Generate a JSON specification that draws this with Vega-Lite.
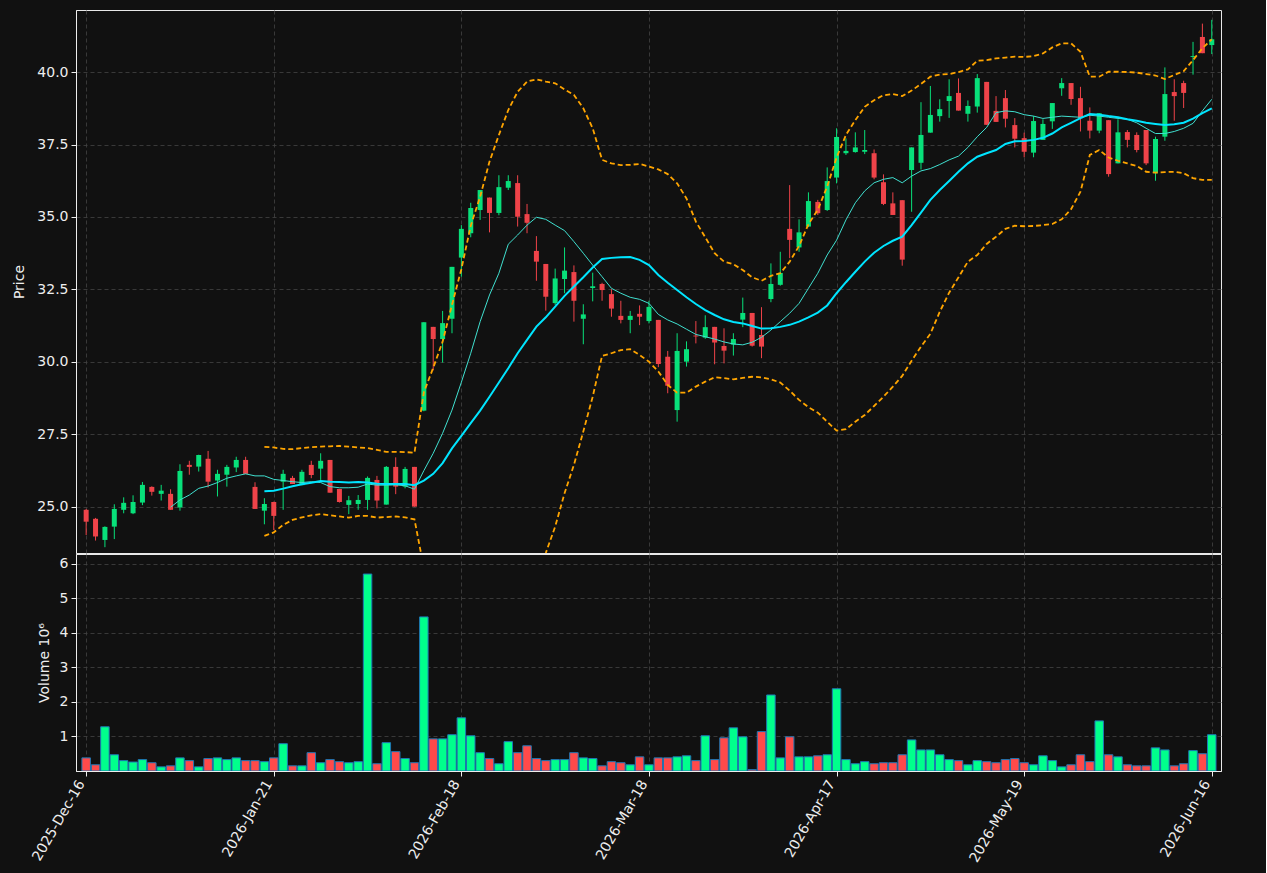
{
"$schema": "https://vega.github.io/schema/vega-lite/v6.json",
"background": "#111111",
"padding": {"left": 12, "top": 9, "right": 44, "bottom": 16},
"spacing": -2,
"config": {
  "view": {"stroke": "#e8e8e8", "strokeWidth": 1},
  "axis": {"labelColor": "#eeeeee", "titleColor": "#eeeeee", "labelFont": "DejaVu Sans", "titleFont": "DejaVu Sans", "labelFontSize": 14, "titleFontSize": 14, "titleFontWeight": "normal", "tickColor": "#eeeeee", "domainColor": "#eeeeee", "gridColor": "#444444", "gridDash": [4, 3], "gridWidth": 0.8, "tickSize": 5, "labelPadding": 3}
},
"data": {"values": [
{"i":0,"o":24.90,"h":24.93,"l":24.03,"c":24.49,"v":0.38},
{"i":1,"o":24.59,"h":24.62,"l":23.84,"c":23.98,"v":0.18},
{"i":2,"o":23.86,"h":24.33,"l":23.61,"c":24.31,"v":1.28},
{"i":3,"o":24.32,"h":25.09,"l":23.89,"c":24.93,"v":0.47},
{"i":4,"o":24.90,"h":25.33,"l":24.78,"c":25.14,"v":0.30},
{"i":5,"o":24.78,"h":25.40,"l":24.75,"c":25.17,"v":0.26},
{"i":6,"o":25.15,"h":25.86,"l":25.06,"c":25.76,"v":0.33},
{"i":7,"o":25.69,"h":25.71,"l":25.39,"c":25.52,"v":0.24},
{"i":8,"o":25.45,"h":25.76,"l":25.22,"c":25.56,"v":0.12},
{"i":9,"o":25.45,"h":25.61,"l":24.90,"c":24.90,"v":0.15,"m10":24.99},
{"i":10,"o":24.98,"h":26.47,"l":24.87,"c":26.24,"v":0.38,"m10":25.24},
{"i":11,"o":26.45,"h":26.59,"l":26.11,"c":26.38,"v":0.30,"m10":25.41},
{"i":12,"o":26.39,"h":26.80,"l":26.22,"c":26.79,"v":0.12,"m10":25.64},
{"i":13,"o":26.66,"h":26.93,"l":25.67,"c":25.87,"v":0.36,"m10":25.72},
{"i":14,"o":25.91,"h":26.28,"l":25.36,"c":26.14,"v":0.38,"m10":25.84},
{"i":15,"o":26.11,"h":26.45,"l":25.70,"c":26.38,"v":0.33,"m10":25.99},
{"i":16,"o":26.36,"h":26.73,"l":26.20,"c":26.62,"v":0.38,"m10":26.07},
{"i":17,"o":26.62,"h":26.73,"l":26.14,"c":26.14,"v":0.30,"m10":26.14},
{"i":18,"o":25.69,"h":25.85,"l":24.93,"c":24.93,"v":0.30,"m10":26.07},
{"i":19,"o":24.87,"h":25.30,"l":24.40,"c":25.10,"v":0.27,"m10":26.07,"m20":25.54,"bu":27.07,"bl":24.00},
{"i":20,"o":25.17,"h":25.18,"l":24.20,"c":24.69,"v":0.38,"m10":25.95,"m20":25.56,"bu":27.05,"bl":24.12},
{"i":21,"o":25.87,"h":26.28,"l":24.90,"c":26.14,"v":0.79,"m10":25.91,"m20":25.63,"bu":27.00,"bl":24.38},
{"i":22,"o":26.00,"h":26.07,"l":25.79,"c":25.79,"v":0.15,"m10":25.87,"m20":25.71,"bu":26.99,"bl":24.55},
{"i":23,"o":25.75,"h":26.28,"l":25.75,"c":26.21,"v":0.15,"m10":25.84,"m20":25.78,"bu":27.03,"bl":24.64},
{"i":24,"o":26.45,"h":26.59,"l":25.99,"c":26.10,"v":0.53,"m10":25.87,"m20":25.83,"bu":27.06,"bl":24.71},
{"i":25,"o":26.32,"h":26.85,"l":25.93,"c":26.59,"v":0.24,"m10":25.84,"m20":25.89,"bu":27.08,"bl":24.75},
{"i":26,"o":26.62,"h":26.62,"l":25.49,"c":25.49,"v":0.33,"m10":25.70,"m20":25.87,"bu":27.09,"bl":24.71},
{"i":27,"o":25.62,"h":25.62,"l":25.15,"c":25.17,"v":0.27,"m10":25.66,"m20":25.86,"bu":27.10,"bl":24.67},
{"i":28,"o":25.07,"h":25.38,"l":24.75,"c":25.23,"v":0.24,"m10":25.66,"m20":25.84,"bu":27.08,"bl":24.63},
{"i":29,"o":25.10,"h":25.41,"l":24.90,"c":25.24,"v":0.27,"m10":25.68,"m20":25.86,"bu":27.05,"bl":24.69},
{"i":30,"o":25.24,"h":26.05,"l":24.90,"c":26.00,"v":5.70,"m10":25.79,"m20":25.84,"bu":27.03,"bl":24.69},
{"i":31,"o":25.93,"h":26.07,"l":24.95,"c":25.22,"v":0.21,"m10":25.75,"m20":25.80,"bu":26.97,"bl":24.63},
{"i":32,"o":25.08,"h":26.41,"l":25.08,"c":26.38,"v":0.82,"m10":25.75,"m20":25.79,"bu":26.90,"bl":24.65},
{"i":33,"o":26.38,"h":26.71,"l":25.44,"c":25.70,"v":0.56,"m10":25.76,"m20":25.79,"bu":26.90,"bl":24.67},
{"i":34,"o":25.70,"h":26.38,"l":25.64,"c":26.31,"v":0.36,"m10":25.73,"m20":25.79,"bu":26.89,"bl":24.64},
{"i":35,"o":26.38,"h":26.38,"l":25.01,"c":25.01,"v":0.24,"m10":25.61,"m20":25.75,"bu":26.87,"bl":24.57},
{"i":36,"o":28.32,"h":31.37,"l":28.30,"c":31.37,"v":4.46,"m10":26.25,"m20":25.91,"bu":28.95,"bl":22.90},
{"i":37,"o":31.21,"h":31.21,"l":29.71,"c":30.79,"v":0.93,"m10":26.85,"m20":26.14,"bu":29.80,"bl":22.50},
{"i":38,"o":30.79,"h":31.76,"l":29.98,"c":31.34,"v":0.93,"m10":27.54,"m20":26.51,"bu":30.70,"bl":22.32},
{"i":39,"o":31.49,"h":33.28,"l":30.99,"c":33.28,"v":1.05,"m10":28.34,"m20":27.02,"bu":31.97,"bl":22.07},
{"i":40,"o":33.60,"h":34.72,"l":32.94,"c":34.59,"v":1.54,"m10":29.30,"m20":27.45,"bu":33.20,"bl":21.60},
{"i":41,"o":34.44,"h":35.49,"l":34.30,"c":35.31,"v":1.02,"m10":30.30,"m20":27.89,"bu":34.70,"bl":21.08},
{"i":42,"o":35.24,"h":35.93,"l":34.90,"c":35.93,"v":0.53,"m10":31.39,"m20":28.32,"bu":35.70,"bl":20.94},
{"i":43,"o":35.67,"h":35.67,"l":34.47,"c":35.14,"v":0.36,"m10":32.31,"m20":28.80,"bu":36.91,"bl":20.69},
{"i":44,"o":35.14,"h":36.44,"l":35.06,"c":36.03,"v":0.21,"m10":33.06,"m20":29.29,"bu":37.83,"bl":20.75},
{"i":45,"o":36.01,"h":36.44,"l":35.93,"c":36.24,"v":0.85,"m10":34.06,"m20":29.78,"bu":38.69,"bl":20.87},
{"i":46,"o":36.17,"h":36.44,"l":34.67,"c":35.01,"v":0.53,"m10":34.38,"m20":30.30,"bu":39.32,"bl":21.28},
{"i":47,"o":35.10,"h":35.45,"l":34.44,"c":34.80,"v":0.73,"m10":34.72,"m20":30.76,"bu":39.67,"bl":21.85},
{"i":48,"o":33.83,"h":34.34,"l":32.80,"c":33.46,"v":0.36,"m10":34.99,"m20":31.22,"bu":39.75,"bl":22.69},
{"i":49,"o":33.38,"h":33.38,"l":31.77,"c":32.25,"v":0.30,"m10":34.92,"m20":31.54,"bu":39.67,"bl":23.41},
{"i":50,"o":32.03,"h":33.22,"l":31.97,"c":32.88,"v":0.33,"m10":34.72,"m20":31.91,"bu":39.61,"bl":24.32},
{"i":51,"o":32.86,"h":33.95,"l":32.37,"c":33.15,"v":0.33,"m10":34.53,"m20":32.28,"bu":39.40,"bl":25.47},
{"i":52,"o":33.10,"h":33.33,"l":31.39,"c":32.11,"v":0.53,"m10":34.15,"m20":32.60,"bu":39.21,"bl":26.45},
{"i":53,"o":31.49,"h":31.99,"l":30.61,"c":31.64,"v":0.38,"m10":33.75,"m20":32.92,"bu":38.75,"bl":27.60},
{"i":54,"o":32.55,"h":33.08,"l":32.09,"c":32.61,"v":0.36,"m10":33.34,"m20":33.26,"bu":38.06,"bl":28.80},
{"i":55,"o":32.69,"h":32.73,"l":32.11,"c":32.48,"v":0.15,"m10":32.94,"m20":33.55,"bu":36.97,"bl":30.21},
{"i":56,"o":32.34,"h":32.51,"l":31.56,"c":31.84,"v":0.27,"m10":32.54,"m20":33.59,"bu":36.85,"bl":30.30},
{"i":57,"o":31.59,"h":32.11,"l":31.33,"c":31.45,"v":0.24,"m10":32.37,"m20":33.61,"bu":36.79,"bl":30.41},
{"i":58,"o":31.45,"h":31.76,"l":30.99,"c":31.59,"v":0.18,"m10":32.23,"m20":33.62,"bu":36.80,"bl":30.44},
{"i":59,"o":31.66,"h":31.95,"l":31.27,"c":31.56,"v":0.41,"m10":32.16,"m20":33.52,"bu":36.83,"bl":30.24},
{"i":60,"o":31.41,"h":32.11,"l":31.33,"c":31.90,"v":0.18,"m10":32.02,"m20":33.34,"bu":36.74,"bl":30.01},
{"i":61,"o":31.45,"h":31.45,"l":29.82,"c":29.93,"v":0.38,"m10":31.64,"m20":33.00,"bu":36.64,"bl":29.67},
{"i":62,"o":30.18,"h":30.38,"l":28.92,"c":29.18,"v":0.38,"m10":31.45,"m20":32.73,"bu":36.48,"bl":29.21},
{"i":63,"o":28.34,"h":30.99,"l":27.94,"c":30.38,"v":0.41,"m10":31.31,"m20":32.48,"bu":36.16,"bl":28.94},
{"i":64,"o":30.01,"h":30.71,"l":29.84,"c":30.44,"v":0.44,"m10":31.13,"m20":32.23,"bu":35.64,"bl":28.94},
{"i":65,"o":30.91,"h":31.41,"l":30.64,"c":30.88,"v":0.30,"m10":30.95,"m20":32.00,"bu":34.84,"bl":29.15},
{"i":66,"o":30.84,"h":31.61,"l":30.80,"c":31.20,"v":1.02,"m10":30.87,"m20":31.79,"bu":34.30,"bl":29.32},
{"i":67,"o":31.21,"h":31.21,"l":29.92,"c":30.67,"v":0.33,"m10":30.79,"m20":31.62,"bu":33.75,"bl":29.47},
{"i":68,"o":30.55,"h":31.16,"l":29.95,"c":30.39,"v":0.96,"m10":30.69,"m20":31.47,"bu":33.46,"bl":29.44},
{"i":69,"o":30.60,"h":30.99,"l":30.22,"c":30.79,"v":1.25,"m10":30.62,"m20":31.38,"bu":33.37,"bl":29.40},
{"i":70,"o":31.46,"h":32.22,"l":31.20,"c":31.69,"v":0.99,"m10":30.59,"m20":31.33,"bu":33.17,"bl":29.45},
{"i":71,"o":31.69,"h":31.69,"l":30.53,"c":30.56,"v":0.04,"m10":30.68,"m20":31.24,"bu":32.92,"bl":29.49},
{"i":72,"o":30.93,"h":31.89,"l":30.13,"c":30.53,"v":1.14,"m10":30.85,"m20":31.15,"bu":32.80,"bl":29.47},
{"i":73,"o":32.17,"h":33.40,"l":32.06,"c":32.69,"v":2.20,"m10":31.10,"m20":31.16,"bu":32.97,"bl":29.40},
{"i":74,"o":32.66,"h":33.80,"l":32.63,"c":33.07,"v":0.38,"m10":31.39,"m20":31.21,"bu":33.06,"bl":29.29},
{"i":75,"o":34.59,"h":36.10,"l":33.58,"c":34.21,"v":0.99,"m10":31.68,"m20":31.28,"bu":33.46,"bl":29.01},
{"i":76,"o":33.95,"h":34.92,"l":33.80,"c":34.47,"v":0.41,"m10":32.02,"m20":31.39,"bu":34.00,"bl":28.69},
{"i":77,"o":34.67,"h":35.85,"l":34.65,"c":35.55,"v":0.41,"m10":32.54,"m20":31.54,"bu":34.75,"bl":28.44},
{"i":78,"o":35.52,"h":35.59,"l":35.07,"c":35.13,"v":0.44,"m10":33.06,"m20":31.70,"bu":35.25,"bl":28.25},
{"i":79,"o":35.24,"h":36.71,"l":35.21,"c":36.24,"v":0.47,"m10":33.69,"m20":31.95,"bu":36.05,"bl":27.94},
{"i":80,"o":36.36,"h":38.06,"l":36.16,"c":37.76,"v":2.38,"m10":34.20,"m20":32.37,"bu":37.05,"bl":27.63},
{"i":81,"o":37.20,"h":37.71,"l":37.14,"c":37.28,"v":0.33,"m10":34.90,"m20":32.75,"bu":37.83,"bl":27.68},
{"i":82,"o":37.24,"h":37.92,"l":37.22,"c":37.40,"v":0.21,"m10":35.49,"m20":33.11,"bu":38.34,"bl":27.94},
{"i":83,"o":37.25,"h":38.00,"l":37.17,"c":37.31,"v":0.27,"m10":35.90,"m20":33.46,"bu":38.80,"bl":28.17},
{"i":84,"o":37.20,"h":37.33,"l":36.30,"c":36.36,"v":0.21,"m10":36.18,"m20":33.77,"bu":39.03,"bl":28.48},
{"i":85,"o":36.20,"h":36.47,"l":35.41,"c":35.45,"v":0.24,"m10":36.30,"m20":34.00,"bu":39.20,"bl":28.80},
{"i":86,"o":35.47,"h":35.85,"l":35.07,"c":35.07,"v":0.24,"m10":36.36,"m20":34.18,"bu":39.24,"bl":29.15},
{"i":87,"o":35.58,"h":35.58,"l":33.32,"c":33.53,"v":0.47,"m10":36.18,"m20":34.32,"bu":39.17,"bl":29.52},
{"i":88,"o":36.62,"h":37.40,"l":35.18,"c":37.40,"v":0.90,"m10":36.41,"m20":34.72,"bu":39.36,"bl":30.04},
{"i":89,"o":36.87,"h":38.96,"l":36.64,"c":37.83,"v":0.61,"m10":36.59,"m20":35.15,"bu":39.59,"bl":30.53},
{"i":90,"o":37.91,"h":39.52,"l":37.91,"c":38.52,"v":0.61,"m10":36.67,"m20":35.59,"bu":39.84,"bl":30.97},
{"i":91,"o":38.48,"h":39.06,"l":38.29,"c":38.72,"v":0.47,"m10":36.81,"m20":35.93,"bu":39.91,"bl":31.73},
{"i":92,"o":39.00,"h":39.75,"l":38.42,"c":39.17,"v":0.33,"m10":36.97,"m20":36.24,"bu":39.93,"bl":32.39},
{"i":93,"o":39.28,"h":39.78,"l":38.67,"c":38.67,"v":0.30,"m10":37.10,"m20":36.56,"bu":40.00,"bl":32.92},
{"i":94,"o":38.56,"h":39.02,"l":38.29,"c":38.83,"v":0.18,"m10":37.40,"m20":36.85,"bu":40.09,"bl":33.46},
{"i":95,"o":38.81,"h":39.93,"l":38.60,"c":39.79,"v":0.30,"m10":37.77,"m20":37.08,"bu":40.39,"bl":33.69},
{"i":96,"o":39.66,"h":39.66,"l":38.18,"c":38.18,"v":0.27,"m10":38.09,"m20":37.20,"bu":40.41,"bl":34.07},
{"i":97,"o":38.66,"h":39.17,"l":38.28,"c":38.28,"v":0.24,"m10":38.60,"m20":37.31,"bu":40.47,"bl":34.32},
{"i":98,"o":39.10,"h":39.38,"l":38.09,"c":38.39,"v":0.33,"m10":38.66,"m20":37.52,"bu":40.50,"bl":34.59},
{"i":99,"o":38.17,"h":38.41,"l":37.40,"c":37.70,"v":0.36,"m10":38.63,"m20":37.61,"bu":40.53,"bl":34.70},
{"i":100,"o":37.72,"h":37.91,"l":37.06,"c":37.25,"v":0.24,"m10":38.53,"m20":37.62,"bu":40.52,"bl":34.68},
{"i":101,"o":37.22,"h":38.48,"l":37.06,"c":38.31,"v":0.18,"m10":38.48,"m20":37.66,"bu":40.55,"bl":34.69},
{"i":102,"o":37.66,"h":38.37,"l":37.66,"c":38.21,"v":0.44,"m10":38.40,"m20":37.73,"bu":40.64,"bl":34.72},
{"i":103,"o":38.30,"h":38.93,"l":38.04,"c":38.93,"v":0.30,"m10":38.44,"m20":37.88,"bu":40.85,"bl":34.76},
{"i":104,"o":39.44,"h":39.79,"l":39.18,"c":39.62,"v":0.12,"m10":38.48,"m20":38.09,"bu":40.99,"bl":34.92},
{"i":105,"o":39.62,"h":39.62,"l":38.87,"c":39.07,"v":0.18,"m10":38.46,"m20":38.25,"bu":40.99,"bl":35.27},
{"i":106,"o":39.10,"h":39.49,"l":37.95,"c":38.41,"v":0.47,"m10":38.44,"m20":38.41,"bu":40.70,"bl":35.87},
{"i":107,"o":38.32,"h":38.78,"l":37.71,"c":37.98,"v":0.27,"m10":38.51,"m20":38.55,"bu":39.84,"bl":37.14},
{"i":108,"o":37.98,"h":38.58,"l":37.89,"c":38.58,"v":1.45,"m10":38.48,"m20":38.53,"bu":39.84,"bl":37.31},
{"i":109,"o":38.34,"h":38.34,"l":36.39,"c":36.48,"v":0.47,"m10":38.44,"m20":38.48,"bu":40.01,"bl":37.05},
{"i":110,"o":36.85,"h":38.37,"l":36.85,"c":37.92,"v":0.41,"m10":38.40,"m20":38.44,"bu":40.01,"bl":36.94},
{"i":111,"o":37.93,"h":38.00,"l":37.40,"c":37.66,"v":0.18,"m10":38.37,"m20":38.37,"bu":40.00,"bl":36.85},
{"i":112,"o":37.83,"h":37.92,"l":37.23,"c":37.31,"v":0.15,"m10":38.25,"m20":38.32,"bu":39.98,"bl":36.76},
{"i":113,"o":38.00,"h":38.00,"l":36.79,"c":36.85,"v":0.15,"m10":38.06,"m20":38.25,"bu":39.93,"bl":36.56},
{"i":114,"o":36.51,"h":37.77,"l":36.25,"c":37.69,"v":0.67,"m10":37.88,"m20":38.21,"bu":39.88,"bl":36.53},
{"i":115,"o":37.77,"h":40.16,"l":37.63,"c":39.24,"v":0.61,"m10":37.88,"m20":38.17,"bu":39.76,"bl":36.55},
{"i":116,"o":39.31,"h":39.75,"l":38.32,"c":39.17,"v":0.15,"m10":37.95,"m20":38.20,"bu":39.90,"bl":36.56},
{"i":117,"o":39.62,"h":39.70,"l":38.76,"c":39.28,"v":0.21,"m10":38.06,"m20":38.25,"bu":40.03,"bl":36.51},
{"i":118,"o":40.52,"h":41.04,"l":39.91,"c":40.55,"v":0.59,"m10":38.23,"m20":38.39,"bu":40.41,"bl":36.34},
{"i":119,"o":41.21,"h":41.67,"l":40.65,"c":40.65,"v":0.50,"m10":38.66,"m20":38.58,"bu":40.82,"bl":36.28},
{"i":120,"o":40.93,"h":41.80,"l":40.62,"c":41.13,"v":1.05,"m10":39.06,"m20":38.75,"bu":41.13,"bl":36.28}
]},
"vconcat": [
  {
    "width": 1145,
    "height": 543,
    "encoding": {
      "x": {"field": "i", "type": "quantitative", "scale": {"domain": [-0.55, 120.45], "nice": false, "zero": false},
            "axis": {"values": [0, 20, 40, 60, 80, 100, 120], "labels": false, "ticks": false, "domain": false, "title": null, "grid": true, "labelPadding": 0, "minExtent": 0, "maxExtent": 0, "offset": 0}}
    },
    "layer": [
      {
        "mark": {"type": "rule", "clip": true, "strokeWidth": 1},
        "encoding": {
          "y": {"field": "l", "type": "quantitative", "title": "Price",
                "scale": {"domain": [23.41, 42.14], "nice": false, "zero": false},
                "axis": {"values": [25, 27.5, 30, 32.5, 35, 37.5, 40], "format": ".1f", "grid": true, "title": "Price", "titlePadding": 10}},
          "y2": {"field": "h"},
          "color": {"condition": {"test": "datum.c >= datum.o", "value": "#08e07a"}, "value": "#ef4349"}
        }
      },
      {
        "mark": {"type": "bar", "clip": true, "size": 5},
        "encoding": {
          "y": {"field": "o", "type": "quantitative", "title": "Price"},
          "y2": {"field": "c"},
          "color": {"condition": {"test": "datum.c >= datum.o", "value": "#08e07a"}, "value": "#ef4349"}
        }
      },
      {
        "mark": {"type": "line", "clip": true, "color": "#40e0d0", "strokeWidth": 1},
        "encoding": {"y": {"field": "m10", "type": "quantitative", "title": "Price"}}
      },
      {
        "mark": {"type": "line", "clip": true, "color": "#00e5ff", "strokeWidth": 2},
        "encoding": {"y": {"field": "m20", "type": "quantitative", "title": "Price"}}
      },
      {
        "mark": {"type": "line", "clip": true, "color": "#ffa500", "strokeWidth": 1.8, "strokeDash": [5, 3]},
        "encoding": {"y": {"field": "bu", "type": "quantitative", "title": "Price"}}
      },
      {
        "mark": {"type": "line", "clip": true, "color": "#ffa500", "strokeWidth": 1.8, "strokeDash": [5, 3]},
        "encoding": {"y": {"field": "bl", "type": "quantitative", "title": "Price"}}
      }
    ]
  },
  {
    "width": 1145,
    "height": 217,
    "mark": {"type": "bar", "clip": true, "size": 8.5, "stroke": "#1f77b4", "strokeWidth": 1},
    "encoding": {
      "x": {"field": "i", "type": "quantitative", "scale": {"domain": [-0.55, 120.45], "nice": false, "zero": false},
            "axis": {"values": [0, 20, 40, 60, 80, 100, 120], "grid": true, "title": null, "labelAngle": -60, "labelAlign": "right", "labelBaseline": "middle", "labelOffset": -5, "labelPadding": 5,
                     "labelExpr": "['2025-Dec-16','2026-Jan-21','2026-Feb-18','2026-Mar-18','2026-Apr-17','2026-May-19','2026-Jun-16'][round(datum.value / 20)]"}},
      "y": {"field": "v", "type": "quantitative", "scale": {"domain": [0, 6.28], "nice": false, "zero": true},
            "axis": {"values": [1, 2, 3, 4, 5, 6], "format": "d", "grid": true, "title": "Volume  10⁶", "titlePadding": 8}},
      "color": {"condition": {"test": "datum.c >= datum.o", "value": "#00ff8c"}, "value": "#ff4a4a"}
    }
  }
]
}
